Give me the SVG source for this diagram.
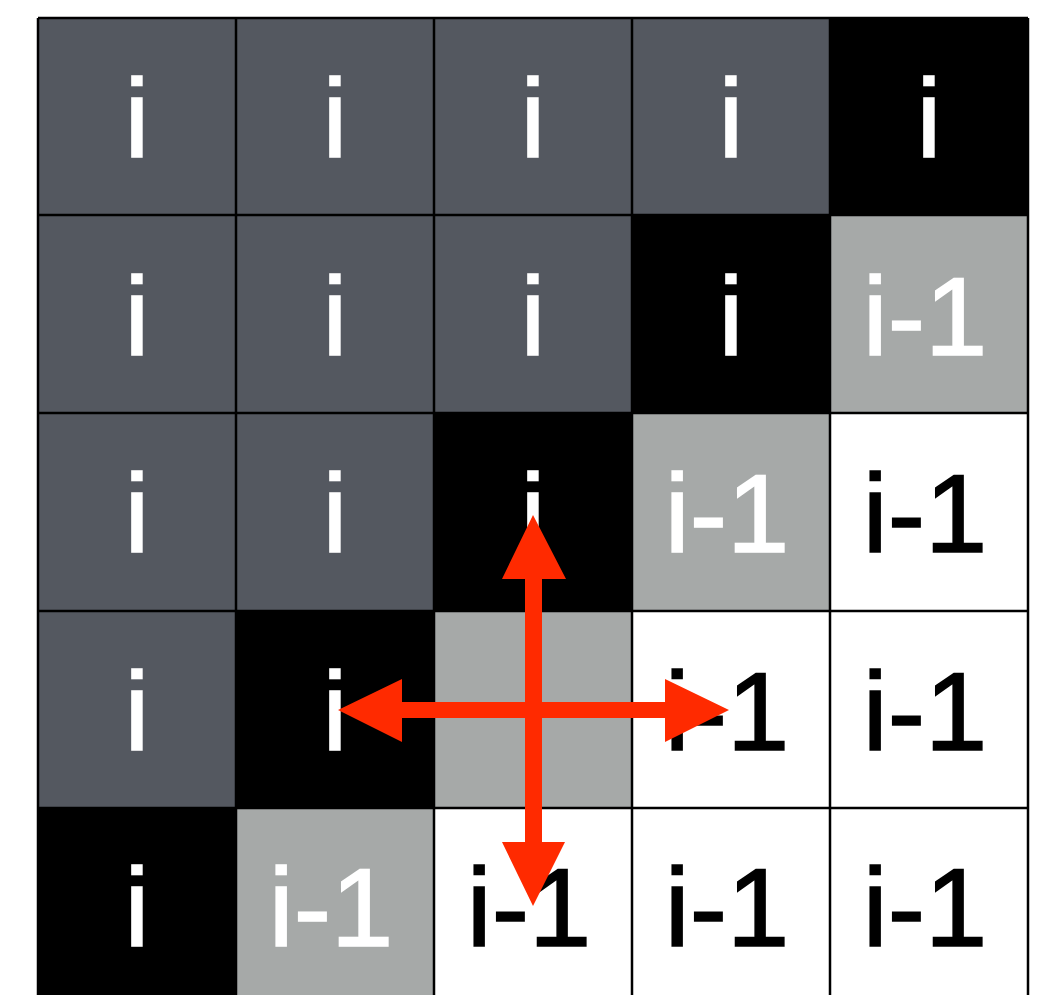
<svg xmlns="http://www.w3.org/2000/svg" width="1039" height="995" viewBox="0 0 1039 995">
<style>
.d{fill:#545860}.b{fill:#000}.l{fill:#a6a9a8}.w{fill:#fff}
text{font-family:"Liberation Sans",Arial,sans-serif;font-size:112px;text-anchor:middle;stroke-width:1.6}
.tw{fill:#fff;stroke:#fff}.tb{fill:#000;stroke:#000}
.grid{stroke:#000;stroke-width:2.5;fill:none}
.arr{fill:#ff2a00}
</style>
<rect width="1039" height="995" fill="#fff"/>
<g id="cell-0-0"><rect class="d" x="38" y="18" width="198" height="197"/><text class="tw" x="137" y="157">i</text></g>
<g id="cell-0-1"><rect class="d" x="236" y="18" width="198" height="197"/><text class="tw" x="335" y="157">i</text></g>
<g id="cell-0-2"><rect class="d" x="434" y="18" width="198" height="197"/><text class="tw" x="533" y="157">i</text></g>
<g id="cell-0-3"><rect class="d" x="632" y="18" width="198" height="197"/><text class="tw" x="731" y="157">i</text></g>
<g id="cell-0-4"><rect class="b" x="830" y="18" width="198" height="197"/><text class="tw" x="929" y="157">i</text></g>

<g id="cell-1-0"><rect class="d" x="38" y="215" width="198" height="198"/><text class="tw" x="137" y="355">i</text></g>
<g id="cell-1-1"><rect class="d" x="236" y="215" width="198" height="198"/><text class="tw" x="335" y="355">i</text></g>
<g id="cell-1-2"><rect class="d" x="434" y="215" width="198" height="198"/><text class="tw" x="533" y="355">i</text></g>
<g id="cell-1-3"><rect class="b" x="632" y="215" width="198" height="198"/><text class="tw" x="731" y="355">i</text></g>
<g id="cell-1-4"><rect class="l" x="830" y="215" width="198" height="198"/><text class="tw" x="925" y="355">i-1</text></g>

<g id="cell-2-0"><rect class="d" x="38" y="413" width="198" height="198"/><text class="tw" x="137" y="552">i</text></g>
<g id="cell-2-1"><rect class="d" x="236" y="413" width="198" height="198"/><text class="tw" x="335" y="552">i</text></g>
<g id="cell-2-2"><rect class="b" x="434" y="413" width="198" height="198"/><text class="tw" x="533" y="552">i</text></g>
<g id="cell-2-3"><rect class="l" x="632" y="413" width="198" height="198"/><text class="tw" x="727" y="552">i-1</text></g>
<g id="cell-2-4"><rect class="w" x="830" y="413" width="198" height="198"/><text class="tb" x="925" y="552">i-1</text></g>

<g id="cell-3-0"><rect class="d" x="38" y="611" width="198" height="197"/><text class="tw" x="137" y="750">i</text></g>
<g id="cell-3-1"><rect class="b" x="236" y="611" width="198" height="197"/><text class="tw" x="335" y="750">i</text></g>
<g id="cell-3-2"><rect class="l" x="434" y="611" width="198" height="197"/></g>
<g id="cell-3-3"><rect class="w" x="632" y="611" width="198" height="197"/><text class="tb" x="727" y="750">i-1</text></g>
<g id="cell-3-4"><rect class="w" x="830" y="611" width="198" height="197"/><text class="tb" x="925" y="750">i-1</text></g>

<g id="cell-4-0"><rect class="b" x="38" y="808" width="198" height="198"/><text class="tw" x="137" y="946">i</text></g>
<g id="cell-4-1"><rect class="l" x="236" y="808" width="198" height="198"/><text class="tw" x="331" y="946">i-1</text></g>
<g id="cell-4-2"><rect class="w" x="434" y="808" width="198" height="198"/><text class="tb" x="529" y="946">i-1</text></g>
<g id="cell-4-3"><rect class="w" x="632" y="808" width="198" height="198"/><text class="tb" x="727" y="946">i-1</text></g>
<g id="cell-4-4"><rect class="w" x="830" y="808" width="198" height="198"/><text class="tb" x="925" y="946">i-1</text></g>

<g id="grid" class="grid">
<path d="M38 18V1000M236 18V1000M434 18V1000M632 18V1000M830 18V1000M1028 18V1000"/>
<path d="M38 18H1028M38 215H1028M38 413H1028M38 611H1028M38 808H1028"/>
</g>

<g id="connectors">
<polygon class="arr" points="533,515 566,579 542,579 542,842 565,842 533,906 502,842 525,842 525,579 502,579"/>
<polygon class="arr" points="338,710 402,679 402,702 665,702 665,679 729,710 665,742 665,718 402,718 402,742"/>
</g>
</svg>
